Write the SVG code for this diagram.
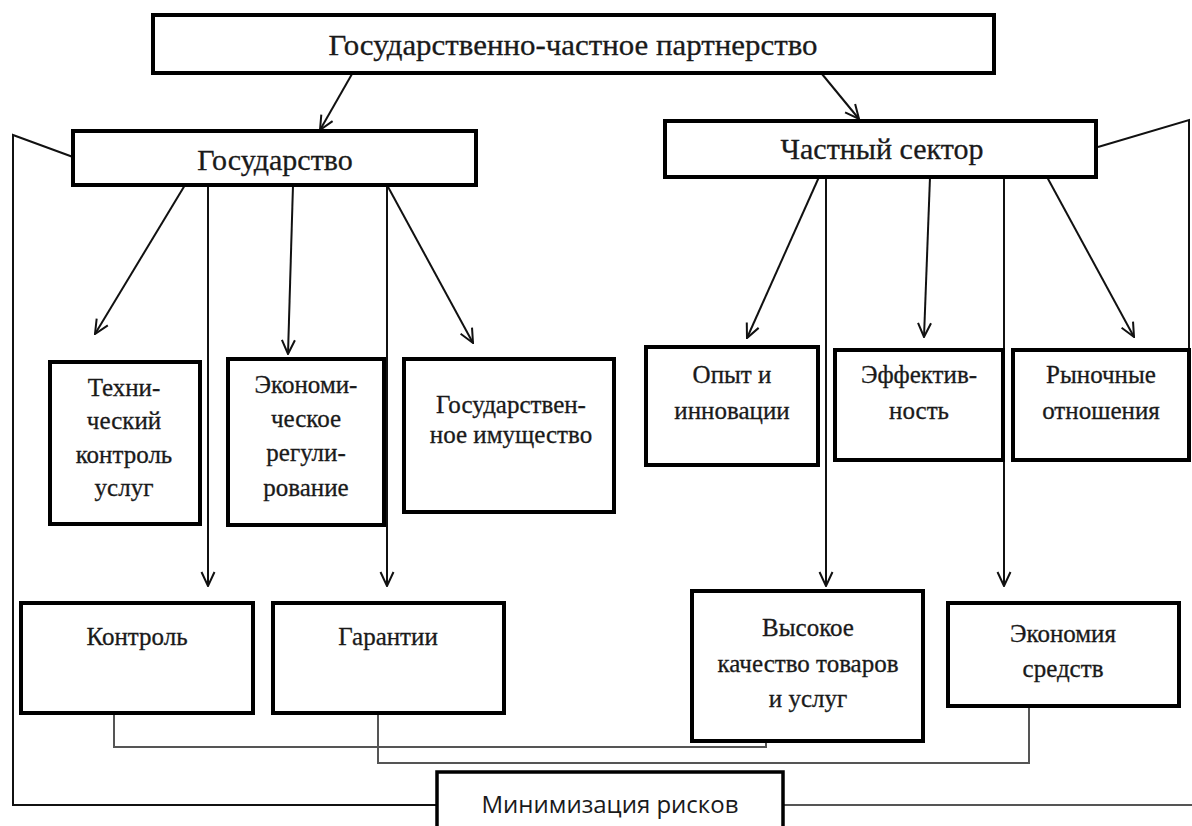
<svg xmlns="http://www.w3.org/2000/svg" width="1192" height="826" viewBox="0 0 1192 826">
<defs>
<style>
.box{fill:#fff;stroke:#000;stroke-width:4}
.t{font-family:"Liberation Serif","Times New Roman",serif;fill:#1a1a1a;stroke:#1a1a1a;stroke-width:0.3;text-anchor:middle}
.big{font-size:30px}
.sm{font-size:25px}
.ln{fill:none;stroke:#111;stroke-width:2}
.gl{fill:none;stroke:#555;stroke-width:2}
</style>
<marker id="ar" viewBox="0 0 16 16" refX="15" refY="8" markerWidth="16" markerHeight="16" markerUnits="userSpaceOnUse" orient="auto">
<path d="M1,1.5 L15,8 L1,14.5" fill="none" stroke="#111" stroke-width="2"/>
</marker>
</defs>
<rect width="1192" height="826" fill="#fff"/>
<g id="connectors">
<line class="ln" x1="352" y1="74" x2="320" y2="130" marker-end="url(#ar)"/>
<line class="ln" x1="822" y1="74" x2="859" y2="119" marker-end="url(#ar)"/>
<polyline class="ln" points="73,157 13,135 13,805 437,805"/>
<polyline class="ln" points="1098,147 1189,120 1189,350"/>
<line class="gl" x1="783" y1="805" x2="1192" y2="805"/>
<line class="ln" x1="185" y1="185" x2="95" y2="334" marker-end="url(#ar)"/>
<line class="ln" x1="208" y1="185" x2="208" y2="586" marker-end="url(#ar)"/>
<line class="ln" x1="293" y1="185" x2="288" y2="354" marker-end="url(#ar)"/>
<line class="ln" x1="387" y1="185" x2="387" y2="586" marker-end="url(#ar)"/>
<line class="ln" x1="387" y1="185" x2="473" y2="343" marker-end="url(#ar)"/>
<line class="ln" x1="819" y1="177" x2="747" y2="338" marker-end="url(#ar)"/>
<line class="ln" x1="826" y1="177" x2="826" y2="586" marker-end="url(#ar)"/>
<line class="ln" x1="930" y1="177" x2="924" y2="337" marker-end="url(#ar)"/>
<line class="ln" x1="1004" y1="177" x2="1004" y2="586" marker-end="url(#ar)"/>
<line class="ln" x1="1047" y1="177" x2="1134" y2="337" marker-end="url(#ar)"/>
<polyline class="gl" points="114,713 114,747 766,747 766,741"/>
<polyline class="gl" points="378,713 378,763 1029,763 1029,706"/>
</g>
<g id="n-top"><rect class="box" x="153" y="15" width="841" height="58"/><text class="t big" x="573" y="55" textLength="489" lengthAdjust="spacingAndGlyphs">Государственно-частное партнерство</text></g>
<g id="n-gos"><rect class="box" x="73" y="131" width="403" height="54"/><text class="t big" x="275" y="170">Государство</text></g>
<g id="n-chast"><rect class="box" x="665" y="121" width="431" height="56"/><text class="t big" x="882" y="159">Частный сектор</text></g>
<g id="n-tech"><rect class="box" x="50" y="362" width="150" height="162"/><text class="t sm" x="124"><tspan x="124" y="396">Техни-</tspan><tspan x="124" y="429">ческий</tspan><tspan x="124" y="463">контроль</tspan><tspan x="124" y="496">услуг</tspan></text></g>
<g id="n-econ"><rect class="box" x="228" y="359" width="156" height="166"/><text class="t sm" x="306"><tspan x="306" y="393">Экономи-</tspan><tspan x="306" y="427">ческое</tspan><tspan x="306" y="461">регули-</tspan><tspan x="306" y="496">рование</tspan></text></g>
<g id="n-imush"><rect class="box" x="404" y="359" width="210" height="153"/><text class="t sm" x="511"><tspan x="511" y="413">Государствен-</tspan><tspan x="511" y="443">ное имущество</tspan></text></g>
<g id="n-opyt"><rect class="box" x="646" y="347" width="172" height="118"/><text class="t sm" x="732"><tspan x="732" y="383">Опыт и</tspan><tspan x="732" y="419">инновации</tspan></text></g>
<g id="n-eff"><rect class="box" x="835" y="350" width="168" height="110"/><text class="t sm" x="919"><tspan x="919" y="383">Эффектив-</tspan><tspan x="919" y="419">ность</tspan></text></g>
<g id="n-ryn"><rect class="box" x="1013" y="350" width="176" height="110"/><text class="t sm" x="1101"><tspan x="1101" y="383">Рыночные</tspan><tspan x="1101" y="419">отношения</tspan></text></g>
<g id="n-kontrol"><rect class="box" x="21" y="603" width="232" height="110"/><text class="t sm" x="137" y="645">Контроль</text></g>
<g id="n-garant"><rect class="box" x="273" y="603" width="231" height="110"/><text class="t sm" x="388" y="645">Гарантии</text></g>
<g id="n-vys"><rect class="box" x="692" y="591" width="231" height="150"/><text class="t sm" x="808"><tspan x="808" y="636">Высокое</tspan><tspan x="808" y="672">качество товаров</tspan><tspan x="808" y="707">и услуг</tspan></text></g>
<g id="n-ekon"><rect class="box" x="948" y="603" width="231" height="103"/><text class="t sm" x="1063"><tspan x="1063" y="642">Экономия</tspan><tspan x="1063" y="677">средств</tspan></text></g>
<g id="n-min"><rect class="box" x="437" y="772" width="346" height="70" style="stroke-width:3.5"/><text x="610" y="813" style="font-family:'Open Sans','Liberation Sans',sans-serif;font-size:24px;fill:#1a1a1a;text-anchor:middle">Минимизация рисков</text></g>
</svg>
